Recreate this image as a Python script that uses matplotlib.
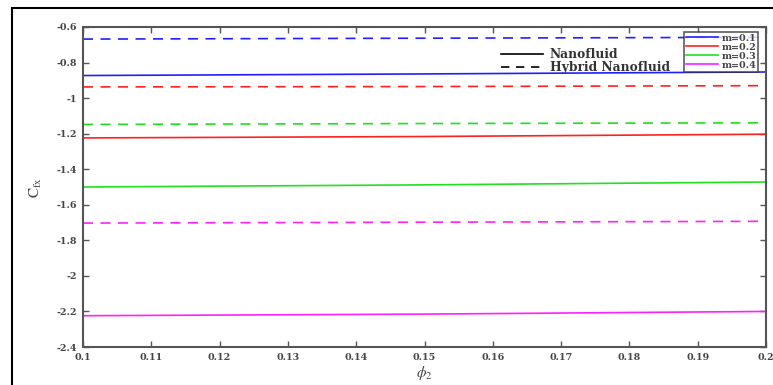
import matplotlib
matplotlib.use("Agg")
import matplotlib.pyplot as plt
from matplotlib.lines import Line2D
from matplotlib.patches import Rectangle

phi2 = [0.10, 0.15, 0.20]
m_labels = ["m=0.1", "m=0.2", "m=0.3", "m=0.4"]
colors = ["#2020ff", "#ff2020", "#20e020", "#ff20ff"]
nano = [
    [-0.873, -0.864, -0.853],
    [-1.224, -1.216, -1.203],
    [-1.500, -1.488, -1.472],
    [-2.224, -2.215, -2.200],
]
hybrid = [
    [-0.668, -0.663, -0.658],
    [-0.937, -0.935, -0.930],
    [-1.148, -1.143, -1.139],
    [-1.703, -1.698, -1.693],
]
xticks = [0.1, 0.11, 0.12, 0.13, 0.14, 0.15, 0.16, 0.17, 0.18, 0.19, 0.2]
xticklabels = ["0.1", "0.11", "0.12", "0.13", "0.14", "0.15", "0.16", "0.17", "0.18", "0.19", "0.2"]
yticks = [-2.4, -2.2, -2.0, -1.8, -1.6, -1.4, -1.2, -1.0, -0.8, -0.6]
yticklabels = ["-2.4", "-2.2", "-2", "-1.8", "-1.6", "-1.4", "-1.2", "-1", "-0.8", "-0.6"]

plt.rcParams['font.family'] = ['DejaVu Serif']
plt.rcParams['mathtext.fontset'] = 'stix'

fig = plt.figure(figsize=(7.73, 3.85), dpi=100)
fig.patches.append(Rectangle((12/773, -0.01), 1.0, 1 - 8/385 + 0.01,
                             transform=fig.transFigure, fill=False,
                             edgecolor='black', linewidth=1.5, zorder=0))
ax = fig.add_axes([83/773, 1 - 347/385, (766 - 83)/773, (347 - 27)/385])

handles = []
for i in range(4):
    h, = ax.plot(phi2, nano[i], color=colors[i], lw=1.2, label=m_labels[i])
    ax.plot(phi2, hybrid[i], color=colors[i], lw=1.2, ls=(0, (6, 4.5)))
    handles.append(h)

ax.set_xlim(0.1, 0.2)
ax.set_ylim(-2.4, -0.6)
ax.set_xticks(xticks)
ax.set_xticklabels(xticklabels)
ax.set_yticks(yticks)
ax.set_yticklabels(yticklabels)
ax.tick_params(direction='in', length=4, width=1, top=True, right=True,
               labelsize=6.8, colors='#555555', labelcolor='#444444', pad=4)
for lab in ax.get_xticklabels() + ax.get_yticklabels():
    lab.set_fontweight('bold')
for s in ax.spines.values():
    s.set_color('#555555')
    s.set_linewidth(1.5)

ax.set_xlabel(r'$\phi_2$', fontsize=11, color='#444444', labelpad=2)
ax.set_ylabel(r'$\mathrm{C_{fx}}$', fontsize=11, color='#444444', labelpad=9)

leg1 = ax.legend(handles=handles, loc='upper right', bbox_to_anchor=(0.9885, 0.985),
                 prop={'size': 6.9, 'weight': 'bold'}, frameon=True, fancybox=False,
                 edgecolor='#333333', handlelength=3.4, handletextpad=0.3,
                 borderpad=0.2, labelspacing=0.0, borderaxespad=0)
leg1.get_frame().set_linewidth(1.2)
for t in leg1.get_texts():
    t.set_color('#444444')
ax.add_artist(leg1)

style_handles = [Line2D([], [], color='black', lw=1.2),
                 Line2D([], [], color='black', lw=1.2, ls=(0, (5, 4)))]
leg2 = ax.legend(style_handles, ['Nanofluid', 'Hybrid Nanofluid'],
                 loc='upper left', bbox_to_anchor=(0.605, 0.95), frameon=False,
                 prop={'size': 8.8, 'weight': 'bold'}, handlelength=3.4,
                 handletextpad=0.6, labelspacing=0.0, borderaxespad=0)
for t in leg2.get_texts():
    t.set_color('#333333')

fig.savefig('out.png', dpi=100)
